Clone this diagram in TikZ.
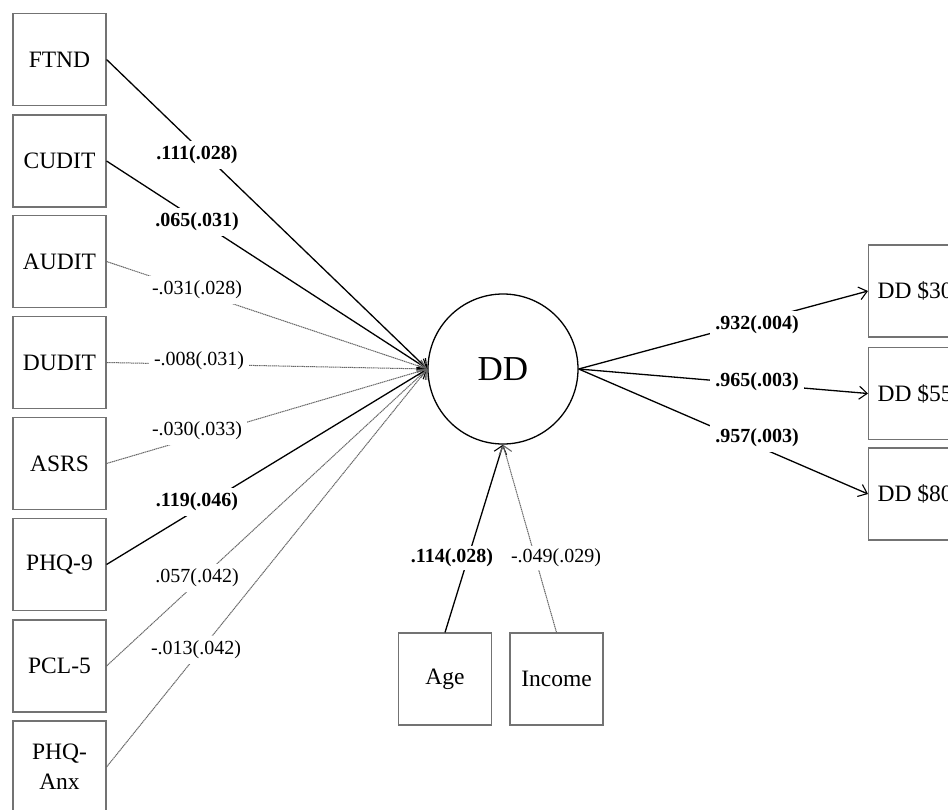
\documentclass[tikz,border=0pt]{standalone}
\usepackage{fontspec}
\setmainfont{Liberation Serif}
\usetikzlibrary{arrows.meta}
\begin{document}
\begin{tikzpicture}[x=1pt,y=-1pt,
  obs/.style={draw=black!55, line width=1.1pt, minimum width=93pt, minimum height=92pt, inner sep=0pt, align=center, font=\fontsize{23.5}{30}\selectfont},
  lat/.style={circle, draw=black, line width=1.3pt, minimum size=150pt, inner sep=0pt, font=\fontsize{35}{38}\selectfont},
  sig/.style={draw=black, line width=1.3pt},
  nsig/.style={draw=black!60, line width=1pt, dash pattern=on 1.3pt off 0.6pt},
  tip/.style={-{Straight Barb[length=8pt,width=13pt,line width=1.1pt]}},
  lbl/.style={fill=white, inner sep=5pt, font=\fontsize{20}{22}\selectfont},
  blbl/.style={fill=white, inner sep=5pt, font=\fontsize{20}{22}\selectfont\bfseries}
]
\clip (0,0) rectangle (948,809);
\fill[white] (0,0) rectangle (948,809);

% latent
\node[lat] (dd) at (503,369) {DD};

% left observed
\node[obs] (ftnd)  at (59.5,59.5)  {FTND};
\node[obs] (cudit) at (59.5,161)   {CUDIT};
\node[obs] (audit) at (59.5,261.5) {AUDIT};
\node[obs] (dudit) at (59.5,362.5) {DUDIT};
\node[obs] (asrs)  at (59.5,463.5) {ASRS};
\node[obs] (phq)   at (59.5,564.5) {PHQ-9};
\node[obs] (pcl)   at (59.5,666)   {PCL-5};
\node[obs] (anx)   at (59.5,767)   {PHQ-\\Anx};

% bottom
\node[obs] (age)    at (445,679)   {Age};
\node[obs] (income) at (556.5,679) {Income};

% right indicators (cut by the picture's right edge)
\node[obs, anchor=west, inner xsep=9pt] (d300) at (868,291)   {DD \$300};
\node[obs, anchor=west, inner xsep=9pt] (d550) at (868,393.5) {DD \$550};
\node[obs, anchor=west, inner xsep=9pt] (d800) at (868,494)   {DD \$800};

% paths into DD
\draw[sig,tip]  (ftnd.east)  -- (dd.west);
\draw[sig,tip]  (cudit.east) -- (dd.west);
\draw[nsig,tip] (audit.east) -- (dd.west);
\draw[nsig,tip] (dudit.east) -- (dd.west);
\draw[nsig,tip] (asrs.east)  -- (dd.west);
\draw[sig,tip]  (phq.east)   -- (dd.west);
\draw[nsig,tip] (pcl.east)   -- (dd.west);
\draw[nsig,tip] (anx.east)   -- (dd.west);

\draw[sig,tip]  (age.north)    -- (dd.south);
\draw[nsig,tip] (income.north) -- (dd.south);

\draw[sig,tip] (dd.east) -- (d300.west);
\draw[sig,tip] (dd.east) -- (d550.west);
\draw[sig,tip] (dd.east) -- (d800.west);

% labels
\node[blbl] (l1) at (197,155) {.111(.028)};
\node[blbl] (l2) at (197,222) {.065(.031)};
\node[lbl]  (l3) at (197,290) {-.031(.028)};
\node[lbl]  (l4) at (199,361) {-.008(.031)};
\node[lbl]  (l5) at (197,431) {-.030(.033)};
\node[blbl] (l6) at (197,502) {.119(.046)};
\node[lbl]  (l7) at (197,578) {.057(.042)};
\node[lbl]  (l8) at (196,650) {-.013(.042)};

\node[blbl, inner sep=3pt] (l9)  at (452,558) {.114(.028)};
\node[lbl,  inner sep=3pt] (l10) at (556,558) {-.049(.029)};

\node[blbl] (l11) at (757,325) {.932(.004)};
\node[blbl] (l12) at (757,382) {.965(.003)};
\node[blbl] (l13) at (757,438) {.957(.003)};
\end{tikzpicture}
\end{document}
